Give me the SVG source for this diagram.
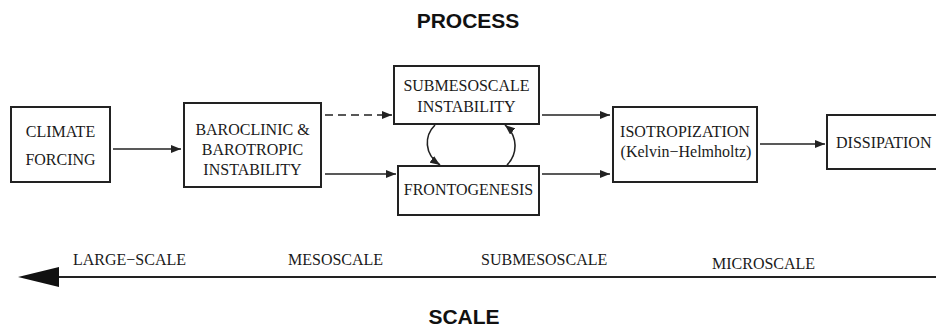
<svg xmlns="http://www.w3.org/2000/svg" width="936" height="329" viewBox="0 0 936 329">
<style>
.box{fill:#fff;stroke:#222;stroke-width:2}
.t{font-family:"Liberation Serif","Times New Roman",serif;font-size:16px;fill:#1a1a1a}
.h{font-family:"Liberation Sans",Arial,sans-serif;font-size:21px;font-weight:bold;fill:#111}
.c{fill:none;stroke:#222;stroke-width:1.6}
</style>
<defs>
<marker id="ah" viewBox="0 0 10 8" refX="10" refY="4" markerWidth="10" markerHeight="8" markerUnits="userSpaceOnUse" orient="auto">
<path d="M0,0 L10,4 L0,8 Z" fill="#222"/>
</marker>
</defs>
<text class="h" x="468" y="28" text-anchor="middle">PROCESS</text>
<text class="h" x="464" y="324" text-anchor="middle">SCALE</text>
<g id="climate">
<rect class="box" x="11" y="107" width="99" height="75"/>
<text class="t" x="60.5" y="137" text-anchor="middle">CLIMATE</text>
<text class="t" x="60.5" y="165" text-anchor="middle">FORCING</text>
</g>
<g id="baroclinic">
<rect class="box" x="184" y="103" width="137" height="84"/>
<text class="t" x="252.5" y="135" text-anchor="middle">BAROCLINIC &amp;</text>
<text class="t" x="252.5" y="155" text-anchor="middle">BAROTROPIC</text>
<text class="t" x="252.5" y="175" text-anchor="middle">INSTABILITY</text>
</g>
<g id="submeso">
<rect class="box" x="394" y="66" width="145" height="58"/>
<text class="t" x="466.5" y="91" text-anchor="middle">SUBMESOSCALE</text>
<text class="t" x="466.5" y="112" text-anchor="middle">INSTABILITY</text>
</g>
<g id="fronto">
<rect class="box" x="398" y="166" width="141" height="49"/>
<text class="t" x="468.5" y="195" text-anchor="middle">FRONTOGENESIS</text>
</g>
<g id="iso">
<rect class="box" x="613" y="107" width="144" height="75"/>
<text class="t" x="685" y="137" text-anchor="middle">ISOTROPIZATION</text>
<text class="t" x="686" y="157" text-anchor="middle">(Kelvin−Helmholtz)</text>
</g>
<g id="dissipation">
<rect class="box" x="827" y="115" width="120" height="54"/>
<text class="t" x="836" y="148">DISSIPATION</text>
</g>
<g id="connectors">
<line class="c" x1="113" y1="149" x2="181" y2="149" marker-end="url(#ah)"/>
<line class="c" x1="325" y1="115" x2="392" y2="115" stroke-dasharray="8,5" marker-end="url(#ah)"/>
<line class="c" x1="325" y1="174" x2="396" y2="174" marker-end="url(#ah)"/>
<line class="c" x1="542" y1="115" x2="610" y2="115" marker-end="url(#ah)"/>
<line class="c" x1="542" y1="174" x2="610" y2="174" marker-end="url(#ah)"/>
<line class="c" x1="760" y1="144" x2="825" y2="144" marker-end="url(#ah)"/>
<path class="c" d="M435,125 C424,136 424,154 440,165" marker-end="url(#ah)"/>
<path class="c" d="M507,165 C518,154 518,136 505,125" marker-end="url(#ah)"/>
<line x1="55" y1="277" x2="936" y2="277" stroke="#222" stroke-width="2"/>
<path d="M18,277 L59,267 L59,287 Z" fill="#111"/>
</g>
<g id="scale-labels">
<text class="t" x="73" y="265">LARGE−SCALE</text>
<text class="t" x="288" y="265">MESOSCALE</text>
<text class="t" x="481" y="265">SUBMESOSCALE</text>
<text class="t" x="712" y="269">MICROSCALE</text>
</g>
</svg>
